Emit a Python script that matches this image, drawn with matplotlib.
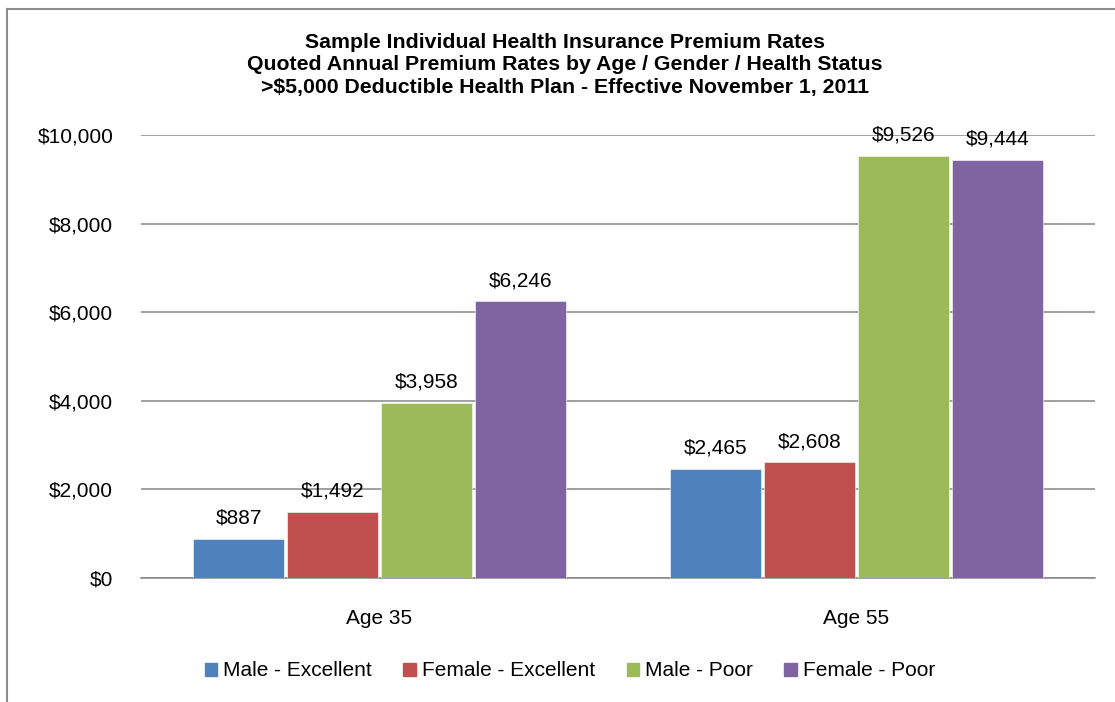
import matplotlib.pyplot as plt
import numpy as np
from matplotlib.patches import Rectangle
from matplotlib.lines import Line2D

plt.rcParams['font.family'] = ['Liberation Sans', 'DejaVu Sans']

# data
ages = ['Age 35', 'Age 55']
series = ['Male - Excellent', 'Female - Excellent', 'Male - Poor', 'Female - Poor']
male_excellent = [887, 2465]
female_excellent = [1492, 2608]
male_poor = [3958, 9526]
female_poor = [6246, 9444]
colors = ['#4F81BD', '#C0504D', '#9BBB59', '#8064A2']
yticks = [0, 2000, 4000, 6000, 8000, 10000]

values = [male_excellent, female_excellent, male_poor, female_poor]

fig = plt.figure(figsize=(11.15, 7.02), dpi=100)
ax = fig.add_axes([141 / 1115, 1 - 578 / 702, (1095 - 141) / 1115, (578 - 135) / 702])

x = np.arange(len(ages))
step = 0.197
width = 0.189
for i, (vals, name, c) in enumerate(zip(values, series, colors)):
    pos = x + (i - 1.5) * step
    bars = ax.bar(pos, vals, width, color=c, label=name, zorder=3,
                  edgecolor='white', linewidth=0.4)
    for b, v in zip(bars, vals):
        ax.annotate('${:,}'.format(v), (b.get_x() + b.get_width() / 2, v),
                    xytext=(0, 8), textcoords='offset points',
                    ha='center', va='bottom', fontsize=15, zorder=4)

ax.set_xlim(-0.5, 1.5)
ax.set_ylim(0, 10000)
ax.set_yticks(yticks)
ax.set_yticklabels(['${:,}'.format(t) for t in yticks], fontsize=15)
ax.set_xticks(x)
ax.set_xticklabels(ages, fontsize=15)
ax.tick_params(axis='both', length=0)
ax.tick_params(axis='y', pad=20)
ax.tick_params(axis='x', pad=22)
ax.yaxis.grid(True, color='#868686', linewidth=1.1, zorder=0)
ax.set_axisbelow(True)
for s in ['top', 'right', 'left']:
    ax.spines[s].set_visible(False)
ax.spines['bottom'].set_color('#868686')
ax.spines['bottom'].set_linewidth(1.1)

# chart border (only left/top visible in the crop)
fig.add_artist(Line2D([7 / 1115, 7 / 1115], [0, 1 - 9 / 702], color='#8c8c8c',
                      linewidth=1.5, transform=fig.transFigure))
fig.add_artist(Line2D([7 / 1115, 1], [1 - 9 / 702, 1 - 9 / 702], color='#8c8c8c',
                      linewidth=1.5, transform=fig.transFigure))

titles = ['Sample Individual Health Insurance Premium Rates',
          'Quoted Annual Premium Rates by Age / Gender / Health Status',
          '>$5,000 Deductible Health Plan - Effective November 1, 2011']
for k, t in enumerate(titles):
    fig.text(565 / 1115, 1 - (42 + 23 * k) / 702, t, ha='center', va='center',
             fontsize=15.3, fontweight='bold')

handles = [Rectangle((0, 0), 1, 1, color=c) for c in colors]
fig.legend(handles, series, loc='center', bbox_to_anchor=(570 / 1115, 1 - 671 / 702),
           ncol=4, frameon=False, fontsize=15, handlelength=0.6, handleheight=0.6,
           handletextpad=0.3, columnspacing=1.5)

fig.savefig('out.png', dpi=100)
